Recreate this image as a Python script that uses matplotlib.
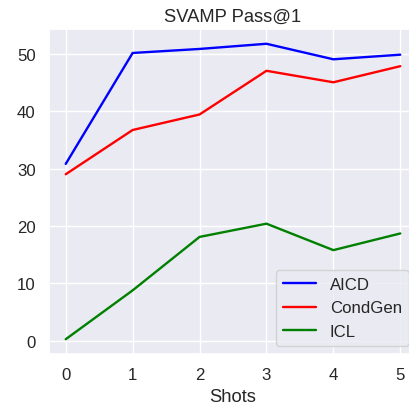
import matplotlib
matplotlib.use('Agg')
import matplotlib.pyplot as plt
import seaborn as sns

sns.set_theme(style='darkgrid', font_scale=1.1)
plt.rcParams['font.family'] = ['Liberation Sans', 'DejaVu Sans']

shots = [0, 1, 2, 3, 4, 5]
aicd = [30.8, 50.1, 50.8, 51.7, 49.0, 49.8]
condgen = [29.0, 36.7, 39.4, 47.0, 45.0, 47.8]
icl = [0.3, 8.8, 18.1, 20.4, 15.8, 18.7]

fig = plt.figure(figsize=(4.09, 4.06), dpi=100)
ax = fig.add_axes([49/409, 51/406, 368/409, 325/406])

ax.plot(shots, aicd, color='blue', label='AICD', lw=1.7)
ax.plot(shots, condgen, color='red', label='CondGen', lw=1.7)
ax.plot(shots, icl, color='green', label='ICL', lw=1.7)

ax.set_title('SVAMP Pass@1')
ax.set_xlabel('Shots')
ax.set_xticks(shots)
ax.set_yticks([0, 10, 20, 30, 40, 50])
ax.legend(loc='lower right')

fig.savefig('out.png', dpi=100)
